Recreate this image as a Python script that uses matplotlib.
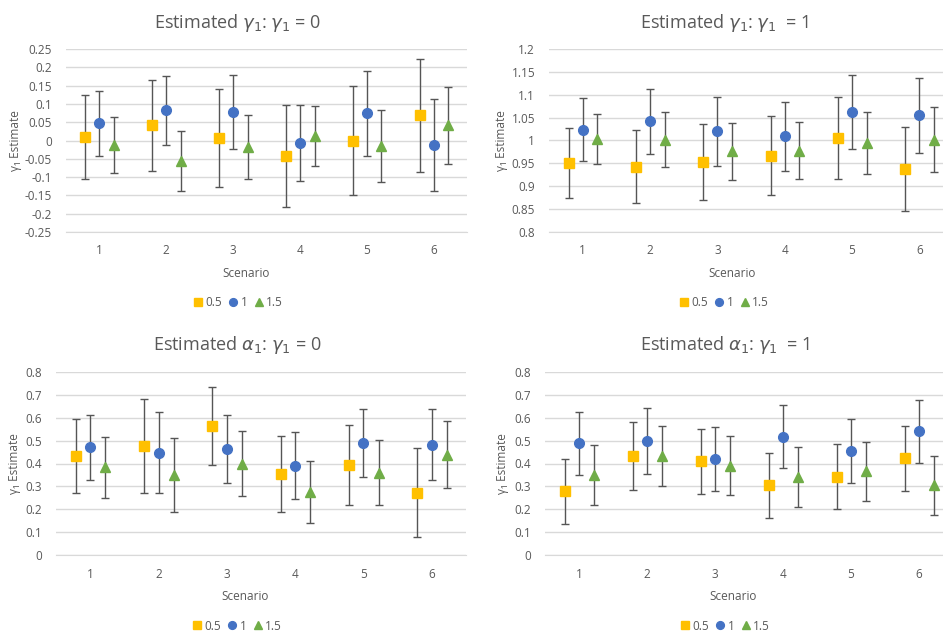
import numpy as np
import matplotlib
matplotlib.use("Agg")
from matplotlib import pyplot as plt

plt.rcParams["font.family"] = ["Open Sans", "DejaVu Sans"]
plt.rcParams["mathtext.fontset"] = "dejavusans"

scenarios = [1, 2, 3, 4, 5, 6]
series_labels = ["0.5", "1", "1.5"]

# estimated gamma_1, true gamma_1 = 0 (mean, half-width of interval)
g0_mean = [
    [0.010, 0.041, 0.006, -0.043, 0.000, 0.069],
    [0.047, 0.082, 0.078, -0.006, 0.074, -0.012],
    [-0.012, -0.055, -0.018, 0.012, -0.016, 0.041],
]
g0_err = [
    [0.115, 0.123, 0.134, 0.140, 0.150, 0.155],
    [0.089, 0.094, 0.102, 0.104, 0.115, 0.125],
    [0.076, 0.082, 0.087, 0.083, 0.098, 0.104],
]

# estimated gamma_1, true gamma_1 = 1
g1_mean = [
    [0.951, 0.943, 0.954, 0.967, 1.005, 0.937],
    [1.024, 1.042, 1.020, 1.009, 1.062, 1.055],
    [1.004, 1.002, 0.976, 0.978, 0.994, 1.002],
]
g1_err = [
    [0.076, 0.080, 0.083, 0.086, 0.089, 0.092],
    [0.068, 0.071, 0.075, 0.076, 0.081, 0.082],
    [0.055, 0.060, 0.062, 0.063, 0.068, 0.071],
]

# estimated alpha_1, true gamma_1 = 0
a0_mean = [
    [0.434, 0.476, 0.565, 0.356, 0.395, 0.272],
    [0.470, 0.448, 0.465, 0.390, 0.488, 0.483],
    [0.383, 0.348, 0.398, 0.275, 0.360, 0.439],
]
a0_err = [
    [0.161, 0.207, 0.170, 0.166, 0.175, 0.195],
    [0.142, 0.178, 0.149, 0.146, 0.149, 0.155],
    [0.135, 0.162, 0.142, 0.137, 0.142, 0.147],
]

# estimated alpha_1, true gamma_1 = 1
a1_mean = [
    [0.278, 0.431, 0.409, 0.304, 0.343, 0.422],
    [0.488, 0.499, 0.420, 0.518, 0.455, 0.540],
    [0.348, 0.433, 0.391, 0.340, 0.367, 0.304],
]
a1_err = [
    [0.142, 0.149, 0.142, 0.142, 0.142, 0.142],
    [0.138, 0.144, 0.140, 0.138, 0.140, 0.138],
    [0.131, 0.133, 0.129, 0.131, 0.129, 0.129],
]

colors = ["#FFC000", "#4472C4", "#70AD47"]
markers = ["s", "o", "^"]
offsets = [-0.21, 0.0, 0.22]
text_color = "#595959"
grid_color = "#D9D9D9"

W, H = 943, 632
fig = plt.figure(figsize=(W / 100, H / 100), dpi=100)


def add_panel(left, top, right, bottom, means, errs, ylim, step, title, title_x,
              title_y, ylabel_x):
    ax = fig.add_axes([left / W, 1 - bottom / H, (right - left) / W, (bottom - top) / H])
    handles = []
    for k in range(3):
        xs = np.array(scenarios) + offsets[k]
        ax.errorbar(xs, means[k], yerr=errs[k], fmt="none", ecolor="#555555",
                    elinewidth=1.0, capsize=3, capthick=1.0, zorder=2)
        h, = ax.plot(xs, means[k], linestyle="none", marker=markers[k],
                     color=colors[k], markersize=7 if k < 2 else 7.5, zorder=3,
                     label=series_labels[k])
        handles.append(h)
    ax.set_xlim(0.5, 6.5)
    ax.set_ylim(*ylim)
    ticks = np.arange(ylim[0], ylim[1] + step / 2, step)
    ax.set_yticks(ticks)
    ax.set_yticklabels([fmt_num(t) for t in ticks])
    ax.set_xticks(scenarios)
    ax.grid(axis="y", color=grid_color, linewidth=1.0)
    ax.set_axisbelow(True)
    for s in ["top", "right", "left"]:
        ax.spines[s].set_visible(False)
    ax.spines["bottom"].set_color(grid_color)
    ax.tick_params(length=0, colors=text_color, labelsize=8.5)
    ax.tick_params(axis="y", pad=10)
    ax.tick_params(axis="x", pad=9)
    ax.set_ylabel("γ₁ Estimate", color=text_color, fontsize=8.5)
    ax.yaxis.set_label_coords(ylabel_x / W, 1 - (top + bottom) / 2 / H,
                              transform=fig.transFigure)

    fig.text(title_x / W, 1 - title_y / H, title, ha="center", va="center",
             color=text_color, fontsize=13)
    fig.text((title_x + 8) / W, 1 - (bottom + 41) / H, "Scenario", ha="center",
             va="center", color=text_color, fontsize=8.5)
    fig.legend(handles=handles, loc="center",
               bbox_to_anchor=(title_x / W, 1 - (bottom + 71) / H),
               ncol=3, frameon=False, fontsize=8.5, handlelength=0.8,
               handletextpad=0.2, columnspacing=0.6, markerscale=0.8,
               labelcolor=text_color)
    return ax


def fmt_num(v):
    v = round(v, 2)
    if abs(v) < 1e-9:
        return "0"
    return "%g" % v


add_panel(66, 49, 467, 232, g0_mean, g0_err, (-0.25, 0.25), 0.05,
          r"Estimated $\gamma_1$: $\gamma_1$ = 0", 238, 23, 22)
add_panel(549, 49, 953, 232, g1_mean, g1_err, (0.8, 1.2), 0.05,
          r"Estimated $\gamma_1$: $\gamma_1$  = 1", 724, 23, 508)
add_panel(56, 372, 466, 555, a0_mean, a0_err, (0.0, 0.8), 0.1,
          r"Estimated $\alpha_1$: $\gamma_1$ = 0", 237, 345, 21)
add_panel(545, 372, 953, 555, a1_mean, a1_err, (0.0, 0.8), 0.1,
          r"Estimated $\alpha_1$: $\gamma_1$  = 1", 725, 345, 509)

fig.savefig("out.png", dpi=100)
